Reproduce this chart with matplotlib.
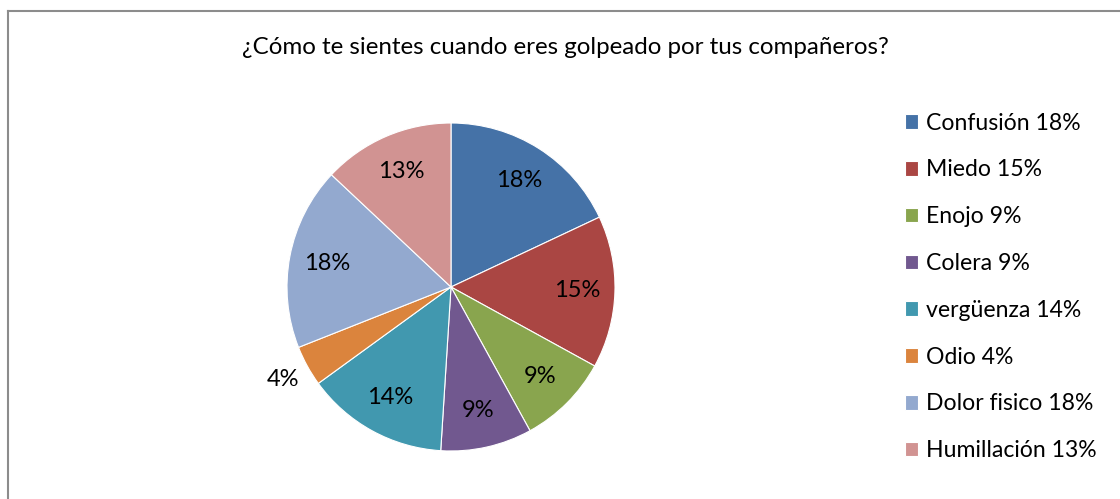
import matplotlib.pyplot as plt
from matplotlib.lines import Line2D
import numpy as np

plt.rcParams['font.family'] = ['Lato', 'DejaVu Sans']

categories = ["Confusión", "Miedo", "Enojo", "Colera", "vergüenza", "Odio",
              "Dolor fisico", "Humillación"]
values = [18, 15, 9, 9, 14, 4, 18, 13]
colors = ["#4572A7", "#AA4643", "#89A54E", "#71588F", "#4198AF", "#DB843D",
          "#93A9CF", "#D19392"]
legend_labels = [f"{c} {v}%" for c, v in zip(categories, values)]

W, H = 1120, 499
fig = plt.figure(figsize=(W / 100, H / 100), dpi=100)

# pie axes: centre ~(451, 287) px, radius ~164 px
cx, cy, r = 451, 287, 164
ax = fig.add_axes([(cx - r) / W, (H - cy - r) / H, 2 * r / W, 2 * r / H])
wedges, texts, autotexts = ax.pie(
    values, colors=colors, startangle=90, counterclock=False,
    autopct=lambda p: f"{p:.0f}%", pctdistance=0.77,
    wedgeprops=dict(edgecolor="white", linewidth=0.8),
    textprops=dict(fontsize=17, color="black"))
ax.set_xlim(-1, 1)
ax.set_ylim(-1, 1)
ax.set_aspect("equal")

# small slice label sits outside the pie
for w, t, v in zip(wedges, autotexts, values):
    if v < 5:
        ang = np.deg2rad((w.theta1 + w.theta2) / 2)
        t.set_position((1.17 * np.cos(ang), 1.17 * np.sin(ang)))

fig.text(0.505, 1 - 48 / H, "¿Cómo te sientes cuando eres golpeado por tus compañeros?",
         ha="center", va="center", fontsize=17.4)

fig.legend(wedges, legend_labels, loc="upper left",
           bbox_to_anchor=(893 / W, 1 - 101 / H), frameon=False,
           fontsize=16.6, handlelength=0.6, handleheight=0.6,
           handletextpad=0.35, labelspacing=1.12, borderpad=0)

# chart frame (only top and left edges visible)
fig.add_artist(Line2D([8 / W, 8 / W], [0, 1 - 11 / H], color="#8c8c8c", lw=1.5))
fig.add_artist(Line2D([8 / W, 1], [1 - 11 / H, 1 - 11 / H], color="#8c8c8c", lw=1.5))

fig.savefig("out.png", dpi=100)
